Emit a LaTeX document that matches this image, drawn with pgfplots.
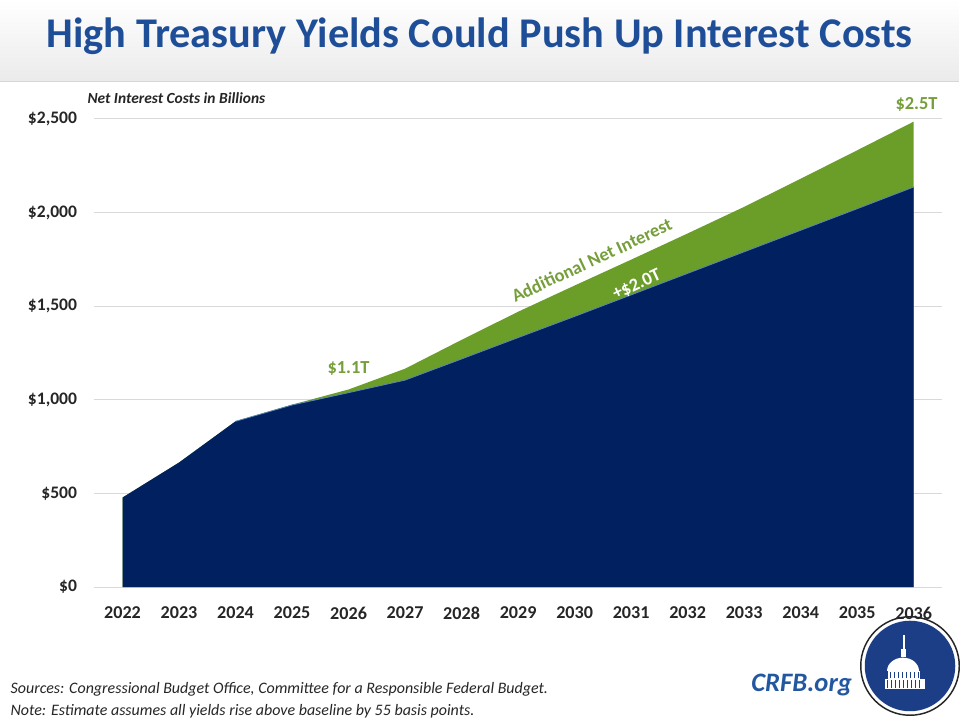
\documentclass[border=0pt]{standalone}
\usepackage{fontspec}
\setmainfont{Carlito}
\usepackage{pgfplots}
\pgfplotsset{compat=1.18}
\definecolor{navy}{RGB}{0,32,96}
\definecolor{grn}{RGB}{106,158,40}
\definecolor{grntxt}{RGB}{118,158,58}
\definecolor{ttl}{RGB}{31,78,152}
\definecolor{lblue}{RGB}{95,135,180}
\definecolor{crfb}{RGB}{35,88,160}
\definecolor{logo}{RGB}{28,62,134}
\definecolor{txt}{RGB}{38,38,38}
\begin{document}
\begin{tikzpicture}
\fill[white] (0,0) rectangle (720pt,-540pt);
\shade[top color=white, bottom color=black!8] (0,0) rectangle (720pt,-61pt);
\draw[black!16, line width=0.6pt] (0,-61.5pt) -- (720pt,-61.5pt);
\begin{scope}[x=0.75pt,y=-0.75pt]
\node[font=\fontsize{31.8}{34}\selectfont\bfseries, text=ttl] at (480,36) {High Treasury Yields Could Push Up Interest Costs};
\node[font=\fontsize{11.6}{13}\selectfont\bfseries\itshape, text=txt, anchor=west, inner sep=0pt] at (87,98) {Net Interest Costs in Billions};
\node[font=\fontsize{12}{14}\selectfont\itshape, text=txt, anchor=west, inner sep=0pt] at (10,690) {Sources: Congressional Budget Office, Committee for a Responsible Federal Budget.};
\node[font=\fontsize{12}{14}\selectfont\itshape, text=txt, anchor=west, inner sep=0pt] at (10,712) {Note: Estimate assumes all yields rise above baseline by 55 basis points.};
\node[font=\fontsize{20}{22}\selectfont\bfseries\itshape, text=crfb, inner sep=0pt] at (802.5,686) {CRFB.org};
% logo
\fill[white] (911,667) circle[radius=37.5pt];
\draw[black!85, line width=1.1pt] (911,667) circle[radius=37pt];
\fill[logo] (911,667) circle[radius=34pt];
\fill[white] (886,680) rectangle (926,690);
\fill[white] (889,672) rectangle (921,680);
\fill[white] (888,672) arc[start angle=180, end angle=0, x radius=12pt, y radius=10pt];
\fill[white] (902,650) rectangle (907,658);
\draw[white, line width=1pt] (905,636) -- (905,650);
\foreach \i in {0,...,8} {\draw[logo, line width=0.4pt] (888+4*\i,681.5) -- (888+4*\i,689);}
\foreach \i in {0,...,7} {\draw[logo, line width=0.4pt] (891+4*\i,673.5) -- (891+4*\i,679);}
\end{scope}
\begin{axis}[
  at={(70.5pt,-441pt)}, anchor=south west,
  scale only axis, width=636.75pt, height=351.75pt,
  xmin=2021.5, xmax=2036.5, ymin=0, ymax=2500,
  axis line style={draw=none}, tick style={draw=none},
  ymajorgrids, grid style={black!15, line width=0.6pt},
  ytick={0,500,1000,1500,2000,2500},
  yticklabels={{\$0},{\$500},{\$1,000},{\$1,500},{\$2,000},{\$2,500}},
  xtick={2022,2023,2024,2025,2026,2027,2028,2029,2030,2031,2032,2033,2034,2035,2036},
  xticklabels={2022,2023,2024,2025,2026,2027,2028,2029,2030,2031,2032,2033,2034,2035,2036},
  yticklabel style={anchor=east, inner sep=0pt, xshift=-12.75pt, font=\fontsize{13.2}{15}\selectfont\bfseries, text=txt},
  xticklabel style={anchor=north, inner sep=0pt, yshift=-14.5pt, font=\fontsize{13.6}{15}\selectfont\bfseries, text=txt},
  clip=false,
]
\addplot[fill=grn, draw=none] coordinates {
(2022,478) (2023,665) (2024,885) (2025,974) (2026,1055) (2027,1166) (2028,1320) (2029,1470) (2030,1610) (2031,1748) (2032,1888) (2033,2030) (2034,2180) (2035,2332) (2036,2485)
} \closedcycle;
\addplot[fill=navy, draw=none] coordinates {
(2022,478) (2023,665) (2024,885) (2025,972) (2026,1038) (2027,1105) (2028,1218) (2029,1332) (2030,1445) (2031,1560) (2032,1675) (2033,1790) (2034,1905) (2035,2020) (2036,2136)
} \closedcycle;
\addplot[draw=lblue, line width=0.6pt] coordinates {
(2024,885) (2025,972) (2026,1038) (2027,1105) (2028,1218) (2029,1332) (2030,1445) (2031,1560) (2032,1675) (2033,1790) (2034,1905) (2035,2020) (2036,2136)
};
\node[font=\fontsize{13.8}{15}\selectfont\bfseries, text=grntxt] at (axis cs:2026,1167) {\$1.1T};
\node[font=\fontsize{13.8}{15}\selectfont\bfseries, text=grntxt] at (axis cs:2036.05,2575) {\$2.5T};
\node[font=\fontsize{13.8}{15}\selectfont\bfseries, text=grntxt, rotate=25] at (axis cs:2030.3,1745) {Additional Net Interest};
\node[font=\fontsize{13.8}{15}\selectfont\bfseries, text=white, rotate=25] at (axis cs:2031.1,1615) {+\$2.0T};
\end{axis}
\end{tikzpicture}
\end{document}
